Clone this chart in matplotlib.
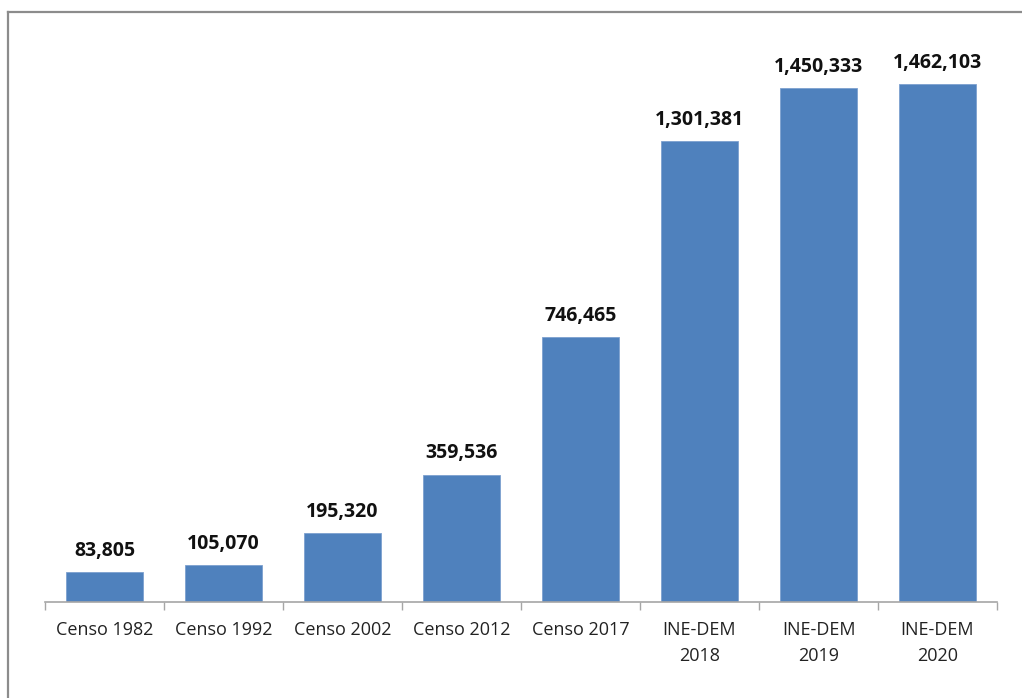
import matplotlib.pyplot as plt
import numpy as np
from matplotlib.lines import Line2D

categories = ["Censo 1982", "Censo 1992", "Censo 2002", "Censo 2012", "Censo 2017",
              "INE-DEM\n2018", "INE-DEM\n2019", "INE-DEM\n2020"]
values = [83805, 105070, 195320, 359536, 746465, 1301381, 1450333, 1462103]

W, H = 1022, 698
fig = plt.figure(figsize=(W / 100, H / 100), dpi=100)
ax = fig.add_axes([45 / W, 1 - 602 / H, (997 - 45) / W, (602 - 35) / H])

x = np.arange(len(categories))
bars = ax.bar(x, values, width=0.65, color="#4f81bd", edgecolor="#7da0cf", linewidth=0.6, zorder=2)

for b, v in zip(bars, values):
    ax.annotate(f"{v:,}", xy=(b.get_x() + b.get_width() / 2, v), xytext=(0, 8),
                textcoords="offset points", ha="center", va="bottom",
                fontsize=14, fontweight="bold", color="#111111", family="Open Sans")

ax.set_xlim(-0.5, len(categories) - 0.5)
ax.set_ylim(0, 1600000)
ax.set_yticks([])
for s in ["top", "right", "left"]:
    ax.spines[s].set_visible(False)
ax.spines["bottom"].set_color("#a6a6a6")
ax.spines["bottom"].set_linewidth(1.2)

ax.set_xticks(np.arange(len(categories) + 1) - 0.5, minor=True)
ax.tick_params(axis="x", which="minor", length=6, width=1.0, color="#a6a6a6", direction="out")
ax.set_xticks(x)
ax.set_xticklabels(categories, fontsize=13, color="#222222", family="Open Sans", linespacing=1.55)
ax.tick_params(axis="x", which="major", length=0, pad=14)

# outer frame of the original chart area
fig.add_artist(Line2D([8 / W, 8 / W], [0, 1 - 12 / H], transform=fig.transFigure,
                      color="#8c8c8c", linewidth=1.6))
fig.add_artist(Line2D([8 / W, 1], [1 - 12 / H, 1 - 12 / H], transform=fig.transFigure,
                      color="#8c8c8c", linewidth=1.6))

fig.savefig("out.png", dpi=100)
